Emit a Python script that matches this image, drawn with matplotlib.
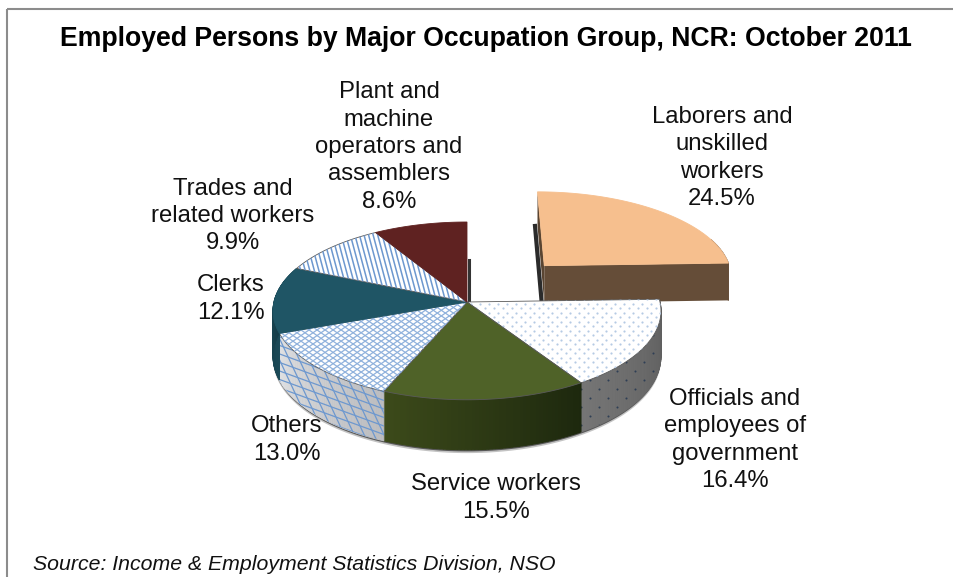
import numpy as np
import matplotlib
matplotlib.use("Agg")
import matplotlib.pyplot as plt
from matplotlib.patches import Polygon, Rectangle
from matplotlib.collections import LineCollection

plt.rcParams["font.family"] = ["Liberation Sans", "DejaVu Sans"]

# Datos
etiquetas = ["Laborers and\nunskilled\nworkers\n24.5%",
             "Officials and\nemployees of\ngovernment\n16.4%",
             "Service workers\n15.5%",
             "Others\n13.0%",
             "Clerks\n12.1%",
             "Trades and\nrelated workers\n9.9%",
             "Plant and\nmachine\noperators and\nassemblers\n8.6%"]
valores = [24.5, 16.4, 15.5, 13.0, 12.1, 9.9, 8.6]
explode = [0.6, 0, 0, 0, 0, 0, 0]
titulo = "Employed Persons by Major Occupation Group, NCR: October 2011"
fuente = "Source: Income & Employment Statistics Division, NSO"

# Estilo de cada sector: cara superior, lateral en el extremo derecho y en el izquierdo
caras = ["#f6bf8e", "#ffffff", "#4f6228", "#ffffff", "#1f5565", "#ffffff", "#5f2221"]
lados = [("#654d38", "#654d38"), ("#5c5c5c", "#757575"), ("#1d280e", "#3c4a1a"),
         ("#bcbdc0", "#dfe0e2"), ("#1b4a58", "#123742"), ("#cccccc", "#cccccc"),
         ("#4a1a19", "#4a1a19")]
azul = "#6d98cf"

# Geometria de la proyeccion (pixeles de la imagen)
cx, cy = 467.0, 302.0
rx, ry = 193.0, 88.0
persp = 0.1
alto = 45.0
alto_sep = 39.0

fig = plt.figure(figsize=(9.54, 5.77), dpi=100)
ax = fig.add_axes([0, 0, 1, 1])
ax.set_xlim(0, 954)
ax.set_ylim(577, 0)
ax.axis("off")


def proyectar(u, v, z=0.0):
    s = 1.0 / (1.0 + persp * v)
    return cx + rx * u * s, cy + (-ry * v + z) * s


def sector(a0, a1, du, dv, z=0.0, n=80):
    t = np.linspace(a0, a1, n)
    u = np.concatenate([[du], du + np.sin(t)])
    v = np.concatenate([[dv], dv + np.cos(t)])
    return np.column_stack(proyectar(u, v, z))


def rayas(parche, angulo, paso, color, lw, zorder):
    # lineas de trama recortadas al sector
    caja = parche.get_path().get_extents()
    c = np.array([(caja.x0 + caja.x1) / 2, (caja.y0 + caja.y1) / 2])
    largo = max(caja.width, caja.height) + 10
    d = np.array([np.cos(np.radians(angulo)), np.sin(np.radians(angulo))])
    p = np.array([-d[1], d[0]])
    segs = [[c + k * p - largo * d, c + k * p + largo * d]
            for k in np.arange(-largo, largo, paso)]
    lc = LineCollection(segs, colors=color, linewidths=lw, zorder=zorder)
    ax.add_collection(lc)
    lc.set_clip_path(parche)


def puntos(parche, paso, color, size, zorder):
    caja = parche.get_path().get_extents()
    xs, ys = [], []
    for i, y in enumerate(np.arange(caja.y0, caja.y1, paso)):
        x = np.arange(caja.x0 + (i % 2) * paso, caja.x1, paso * 2)
        xs.extend(x)
        ys.extend([y] * len(x))
    sc = ax.scatter(xs, ys, s=size, c=color, linewidths=0, zorder=zorder)
    sc.set_clip_path(parche)


def trama(i, parche, z):
    if i == 1:
        puntos(parche, 4.5, "#b5cae4", 2.5, z)
    elif i == 3:
        rayas(parche, 35, 4.6, "#8fb1dc", 0.9, z)
        rayas(parche, -35, 4.6, "#8fb1dc", 0.9, z)
    elif i == 5:
        rayas(parche, 75, 4.4, azul, 1.1, z)


# Angulos en sentido horario desde las 12
bordes = np.radians(np.concatenate([[0], np.cumsum(valores)]) * 3.6)
medios = (bordes[:-1] + bordes[1:]) / 2

# Marco: sin borde derecho ni inferior dentro de la imagen
ax.add_patch(Rectangle((7, 9), 1000, 620, fill=False, ec="#8c8c8c", lw=1.5, zorder=0))

# Sombra bajo la parte delantera del pastel
t = np.linspace(np.radians(88), np.radians(292), 200)
for off, al in [(3.0, 0.25), (1.5, 0.6)]:
    xb, yb = proyectar(np.sin(t), np.cos(t), alto + off)
    ax.fill(xb, yb, color="#111111", alpha=al, lw=0, zorder=1)

# Paredes laterales y caras superiores
orden = [0, 4, 5, 6, 3, 1, 2]
for i in orden:
    a0, a1 = bordes[i], bordes[i + 1]
    du = explode[i] * np.sin(medios[i])
    dv = explode[i] * np.cos(medios[i])
    zb = 3 + i * 2
    h = alto_sep if explode[i] > 0 else alto

    # Pared exterior por tiras con degradado
    tt = np.linspace(a0, a1, 61)
    c0 = np.array(matplotlib.colors.to_rgb(lados[i][0]))
    c1 = np.array(matplotlib.colors.to_rgb(lados[i][1]))
    for k in range(60):
        ta = tt[k:k + 2]
        if np.cos(ta).max() > 0.35 and i != 4:
            continue
        f = k / 59
        u, v = du + np.sin(ta), dv + np.cos(ta)
        xa, ya = proyectar(u, v)
        xz, yz = proyectar(u, v, h)
        ax.fill(np.r_[xa, xz[::-1]], np.r_[ya, yz[::-1]],
                color=tuple(c0 + (c1 - c0) * f), lw=0.7, zorder=zb)

    if i == 3 or i == 1:
        ua = du + np.sin(tt)
        va = dv + np.cos(tt)
        xa, ya = proyectar(ua, va)
        xz, yz = proyectar(ua, va, h)
        lado = Polygon(np.column_stack([np.r_[xa, xz[::-1]], np.r_[ya, yz[::-1]]]),
                       fc="none", ec="none", zorder=zb)
        ax.add_patch(lado)
        if i == 3:
            rayas(lado, 20, 8, azul, 0.9, zb + 0.2)
            rayas(lado, 65, 9, azul, 0.9, zb + 0.2)
        else:
            puntos(lado, 9, "#2f3f55", 2.2, zb + 0.2)

    if explode[i] > 0:
        # Paredes izquierda y frontal del sector separado
        ui = np.array([du, du, du + np.sin(a0), du + np.sin(a0)])
        vi = np.array([dv, dv, dv + np.cos(a0), dv + np.cos(a0)])
        zi = np.array([0, h, h, 0])
        xt, yt = proyectar(ui, vi, zi)
        ax.plot(xt[1:3] - 2.5, yt[1:3], color="#2b2b2b", lw=3, zorder=zb - 0.2)
        ax.fill(xt, yt, color="#5a4532", lw=0, zorder=zb)
        uf = np.array([du, du, du + np.sin(a1), du + np.sin(a1)])
        vf = np.array([dv, dv, dv + np.cos(a1), dv + np.cos(a1)])
        xt, yt = proyectar(uf, vf, zi)
        ax.fill(xt, yt, color=lados[i][0], lw=0, zorder=zb + 0.1)

    cara = Polygon(sector(a0, a1, du, dv), fc=caras[i], zorder=zb + 0.5,
                   ec="#5a5a5a" if i in (1, 2, 3, 5) else caras[i], lw=0.6)
    ax.add_patch(cara)
    trama(i, cara, zb + 0.6)

# Pared interior junto al sector separado
xi, yi = proyectar(np.array([0.0, 0.0]), np.array([0.0, 0.5]))
ax.plot(xi + 2, yi, color="#333333", lw=2.2, zorder=1.5)

# Textos
ax.text(486, 39, titulo, ha="center", va="center", fontsize=19.2, fontweight="bold", color="black")
pos = [(722, 158), (735, 440), (496, 498), (287, 440), (231, 299), (233, 216), (389, 147)]
for et, (x, y) in zip(etiquetas, pos):
    ax.text(x, y, et, ha="center", va="center", fontsize=17.2, linespacing=1.32,
            color="#111111", zorder=40)
ax.text(33, 565, fuente, ha="left", va="center", fontsize=15.3, style="italic", color="#111111")

fig.savefig("out.png", dpi=100)
